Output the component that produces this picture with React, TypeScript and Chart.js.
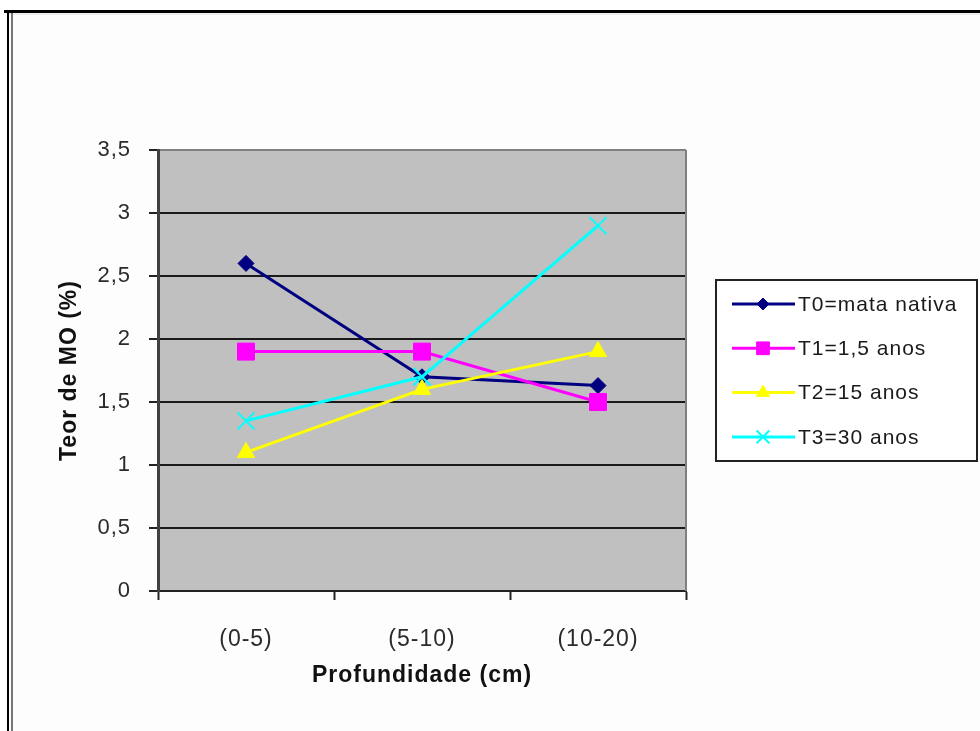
import React, { useEffect, useRef } from 'react';
import { Chart, registerables } from 'chart.js';
import { drawPoint } from 'chart.js/helpers';

Chart.register(...registerables);

const categories = ['(0-5)', '(5-10)', '(10-20)'];
const seriesNames = ['T0=mata nativa', 'T1=1,5 anos', 'T2=15 anos', 'T3=30 anos'];
const t0Values = [2.6, 1.7, 1.63];
const t1Values = [1.9, 1.9, 1.5];
const t2Values = [1.1, 1.6, 1.9];
const t3Values = [1.35, 1.7, 2.9];
const yMin = 0;
const yMax = 3.5;
const yStep = 0.5;
const xTitle = 'Profundidade (cm)';
const yTitle = 'Teor de MO (%)';

const seriesColors = ['#000080', '#FF00FF', '#FFFF00', '#00FFFF'];
const seriesStyles = ['rectRot', 'rect', 'triangle', 'crossRot'];
const seriesRadius = [8, 12, 10, 12];
const FONT = "'Liberation Sans', Arial, sans-serif";

const framePlugin = {
  id: 'framePlugin',
  beforeDraw(chart: any) {
    const { ctx, chartArea, width, height } = chart;
    ctx.save();
    ctx.fillStyle = '#ffffff';
    ctx.fillRect(0, 0, width, height);
    ctx.fillStyle = '#fdfdfd';
    ctx.fillRect(4, 10, width - 4, height - 10);
    // outer frame
    ctx.fillStyle = '#000000';
    ctx.fillRect(4, 10, width - 4, 3);
    ctx.fillRect(7, 10, 2, height - 10);
    ctx.fillStyle = '#eeeeee';
    ctx.fillRect(9, 13, width - 9, 2);
    ctx.fillStyle = '#777777';
    ctx.fillRect(11, 13, 2, height - 13);
    // plot background
    ctx.fillStyle = '#c0c0c0';
    ctx.fillRect(chartArea.left, chartArea.top, chartArea.right - chartArea.left, chartArea.bottom - chartArea.top);
    ctx.restore();
    try { (ctx as any).letterSpacing = '1px'; } catch (e) { /* ignore */ }
  },
  beforeDatasetsDraw(chart: any) {
    const { ctx, chartArea } = chart;
    ctx.save();
    ctx.strokeStyle = '#808080';
    ctx.lineWidth = 2;
    ctx.beginPath();
    ctx.moveTo(chartArea.right, chartArea.top);
    ctx.lineTo(chartArea.right, chartArea.bottom);
    ctx.stroke();
    ctx.restore();
  },
  afterDraw(chart: any) {
    const { ctx } = chart;
    const box = { x: 716, y: 280, w: 261, h: 181 };
    ctx.save();
    ctx.fillStyle = '#ffffff';
    ctx.fillRect(box.x, box.y, box.w, box.h);
    ctx.strokeStyle = '#222222';
    ctx.lineWidth = 2;
    ctx.strokeRect(box.x, box.y, box.w, box.h);
    const rowGap = 44.3;
    const firstY = 304;
    chart.data.datasets.forEach((ds: any, i: number) => {
      const y = firstY + i * rowGap;
      ctx.strokeStyle = ds.borderColor;
      ctx.lineWidth = 3;
      ctx.beginPath();
      ctx.moveTo(732, y);
      ctx.lineTo(795, y);
      ctx.stroke();
      ctx.fillStyle = ds.pointBackgroundColor;
      ctx.strokeStyle = ds.pointBorderColor;
      ctx.lineWidth = ds.pointBorderWidth;
      drawPoint(ctx, { pointStyle: ds.pointStyle, radius: ds.pointRadius * 0.75, borderWidth: ds.pointBorderWidth, rotation: 0 }, 763, y);
      ctx.fillStyle = '#1a1a1a';
      ctx.font = `21px ${FONT}`;
      ctx.textAlign = 'left';
      ctx.textBaseline = 'middle';
      ctx.fillText(ds.label, 798, y + 1);
    });
    ctx.restore();
  },
};

export default function App() {
  const canvasRef = useRef<HTMLCanvasElement | null>(null);

  useEffect(() => {
    const canvas = canvasRef.current;
    if (!canvas) return;
    const allValues = [t0Values, t1Values, t2Values, t3Values];
    const datasets = allValues.map((vals, i) => ({
      label: seriesNames[i],
      data: vals,
      borderColor: seriesColors[i],
      backgroundColor: seriesColors[i],
      borderWidth: 3,
      pointStyle: seriesStyles[i],
      pointRadius: seriesRadius[i],
      pointBackgroundColor: seriesColors[i],
      pointBorderColor: seriesColors[i],
      pointBorderWidth: i === 3 ? 2 : 1,
      pointHoverRadius: seriesRadius[i],
      tension: 0,
      fill: false,
      order: 3 - i,
    }));
    const chart = new Chart(canvas, {
      type: 'line',
      data: { labels: categories, datasets },
      plugins: [framePlugin],
      options: {
        responsive: false,
        animation: false,
        devicePixelRatio: 1,
        layout: { padding: { left: 44, top: 150, right: 294, bottom: 30 } },
        plugins: {
          legend: { display: false },
          tooltip: { enabled: false },
        },
        scales: {
          x: {
            type: 'category',
            offset: true,
            afterFit: (scale: any) => { scale.height = 110; },
            grid: {
              display: true,
              offset: true,
              drawOnChartArea: false,
              drawTicks: true,
              tickLength: 9,
              tickColor: '#222222',
              tickWidth: 2,
            },
            border: { display: true, color: '#222222', width: 2 },
            ticks: {
              color: '#2a2a2a',
              padding: 26,
              font: { family: FONT, size: 23 },
              maxRotation: 0,
            },
            title: {
              display: true,
              text: xTitle,
              color: '#111111',
              font: { family: FONT, size: 23, weight: 'bold' },
              padding: { top: 0, bottom: 12 },
            },
          },
          y: {
            min: yMin,
            max: yMax,
            afterFit: (scale: any) => { scale.width = 114; },
            grid: {
              color: (ctx: any) => (ctx.tick && ctx.tick.value === yMax ? '#808080' : '#1a1a1a'),
              lineWidth: 2,
              drawTicks: true,
              tickLength: 9,
              tickColor: '#222222',
              tickWidth: 2,
            },
            border: { display: true, color: '#404040', width: 3 },
            ticks: {
              stepSize: yStep,
              color: '#2a2a2a',
              padding: 18,
              font: { family: FONT, size: 22 },
              callback: (v: any) => String(v).replace('.', ','),
            },
            title: {
              display: true,
              text: yTitle,
              color: '#111111',
              font: { family: FONT, size: 23, weight: 'bold' },
              padding: { top: 12, bottom: 0 },
            },
          },
        },
      },
    } as any);
    return () => chart.destroy();
  }, []);

  return (
    <div style={{ position: 'absolute', left: 0, top: 0, width: 980, height: 731 }}>
      <canvas ref={canvasRef} width={980} height={731} style={{ width: 980, height: 731, display: 'block' }} />
    </div>
  );
}
